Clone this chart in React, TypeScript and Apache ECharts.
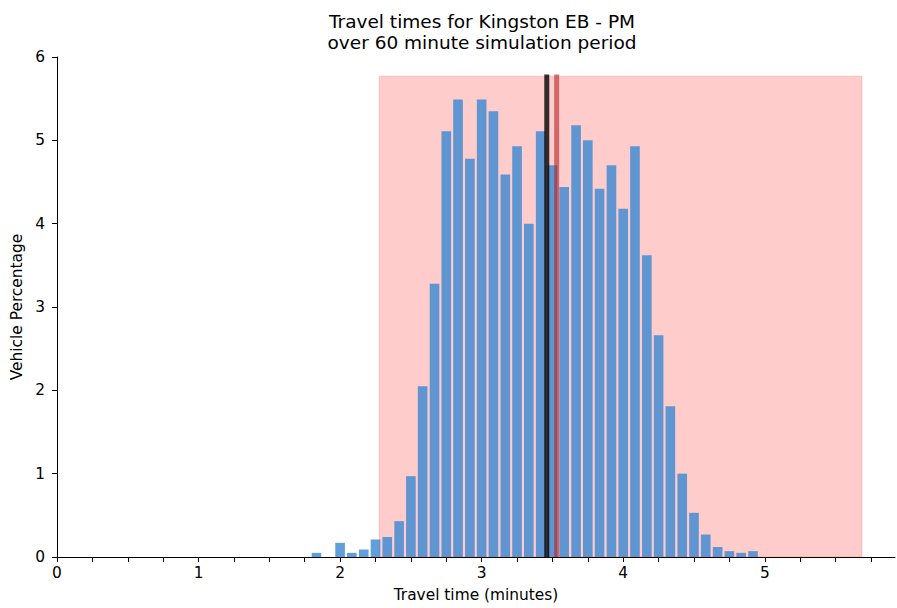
import React, { useEffect, useRef } from "react";
import * as echarts from "echarts";

const binCenters = [
  1.833, 1.917, 2.0, 2.083, 2.167, 2.25, 2.333, 2.417, 2.5, 2.583, 2.667, 2.75,
  2.833, 2.917, 3.0, 3.083, 3.167, 3.25, 3.333, 3.417, 3.5, 3.583, 3.667, 3.75,
  3.833, 3.917, 4.0, 4.083, 4.167, 4.25, 4.333, 4.417, 4.5, 4.583, 4.667, 4.75,
  4.833, 4.917,
];
const vehiclePct = [
  0.05, 0, 0.17, 0.05, 0.09, 0.21, 0.24, 0.43, 0.97, 2.05, 3.28, 5.11,
  5.49, 4.78, 5.49, 5.35, 4.59, 4.93, 4.0, 5.11, 4.7, 4.44, 5.18, 5.0,
  4.42, 4.7, 4.18, 4.93, 3.62, 2.66, 1.81, 1.0, 0.53, 0.27, 0.12, 0.07,
  0.05, 0.07,
];
const barWidthMin = 0.068;
const meanTime = 3.46;
const medianTime = 3.53;
const rangeLow = 2.276;
const rangeHigh = 5.687;
const rangeTop = 5.77;
const lineTop = 5.79;
const xTicks = [
  0, 0.25, 0.5, 0.75, 1, 1.25, 1.5, 1.75, 2, 2.25, 2.5, 2.75, 3, 3.25, 3.5,
  3.75, 4, 4.25, 4.5, 4.75, 5, 5.25, 5.5, 5.75,
];
const xLabels = [0, 1, 2, 3, 4, 5];
const yLabels = [0, 1, 2, 3, 4, 5, 6];

const FONT = "DejaVu Sans";

export default function App() {
  const ref = useRef<HTMLDivElement>(null);
  useEffect(() => {
    if (!ref.current) return;
    const chart = echarts.init(ref.current, null, { renderer: "svg" });
    const barData = binCenters.map((x, i) => [x, vehiclePct[i]]);
    chart.setOption({
      animation: false,
      backgroundColor: "#fff",
      title: {
        text: "Travel times for Kingston EB - PM\nover 60 minute simulation period",
        left: 477,
        top: 6,
        textAlign: "center",
        textStyle: {
          fontFamily: FONT,
          fontSize: 18.5,
          fontWeight: "normal",
          color: "#000",
          lineHeight: 21,
        },
      },
      grid: { left: 57, right: 2, top: 57, bottom: 51, containLabel: false },
      xAxis: {
        type: "value",
        min: 0,
        max: 5.92,
        interval: 0.25,
        name: "Travel time (minutes)",
        nameLocation: "middle",
        nameGap: 30,
        nameTextStyle: { fontFamily: FONT, fontSize: 15.4, color: "#000" },
        splitLine: { show: false },
        axisLine: { show: true, lineStyle: { color: "#000", width: 1 } },
        axisTick: {
          show: true,
          length: 5,
          lineStyle: { color: "#000", width: 1 },
          customValues: xTicks,
        },
        axisLabel: {
          fontFamily: FONT,
          fontSize: 15.4,
          color: "#000",
          margin: 8,
          customValues: xLabels,
        },
      },
      yAxis: {
        type: "value",
        min: 0,
        max: 6,
        interval: 1,
        name: "Vehicle Percentage",
        nameLocation: "middle",
        nameGap: 27,
        nameTextStyle: { fontFamily: FONT, fontSize: 15.4, color: "#000" },
        splitLine: { show: false },
        axisLine: { show: true, lineStyle: { color: "#000", width: 1 } },
        axisTick: {
          show: true,
          length: 5,
          lineStyle: { color: "#000", width: 1 },
          customValues: yLabels,
        },
        axisLabel: {
          fontFamily: FONT,
          fontSize: 15.4,
          color: "#000",
          margin: 12,
          customValues: yLabels,
        },
      },
      series: [
        {
          type: "line",
          data: [],
          silent: true,
          markArea: {
            silent: true,
            itemStyle: {
              color: "rgba(255,0,0,0.2)",
              borderColor: "rgba(255,0,0,0.15)",
              borderWidth: 1,
            },
            data: [[{ coord: [rangeLow, 0] }, { coord: [rangeHigh, rangeTop] }]],
          },
        },
        {
          type: "custom",
          data: barData,
          z: 3,
          renderItem: (params: any, api: any) => {
            const x = api.value(0);
            const y = api.value(1);
            const p0 = api.coord([x - barWidthMin / 2, y]);
            const p1 = api.coord([x + barWidthMin / 2, 0]);
            return {
              type: "rect",
              shape: { x: p0[0], y: p0[1], width: p1[0] - p0[0], height: p1[1] - p0[1] },
              style: { fill: "rgba(55,135,210,0.8)" },
            };
          },
        },
        {
          type: "line",
          data: [
            [meanTime, 0],
            [meanTime, lineTop],
          ],
          z: 5,
          symbol: "none",
          lineStyle: { color: "rgba(0,0,0,0.8)", width: 5, cap: "butt" },
        },
        {
          type: "line",
          data: [
            [medianTime, 0],
            [medianTime, lineTop],
          ],
          z: 5,
          symbol: "none",
          lineStyle: { color: "rgba(178,34,34,0.6)", width: 5, cap: "butt" },
        },
      ],
    });
    return () => chart.dispose();
  }, []);
  return (
    <div
      ref={ref}
      style={{ position: "fixed", left: 0, top: 0, width: 897, height: 608 }}
    />
  );
}
